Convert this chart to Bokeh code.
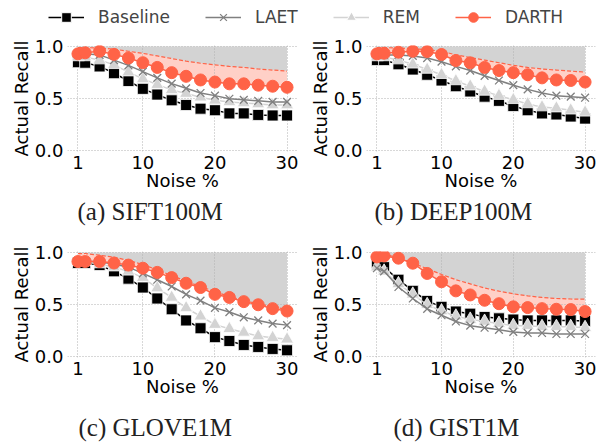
from bokeh.plotting import figure
from bokeh.layouts import column, row
from bokeh.models import Range1d, FixedTicker, Legend, LegendItem, Title, NumeralTickFormatter
from bokeh.embed import file_html
from bokeh.resources import INLINE

# ---------------- data ----------------
noise = [1, 2, 4, 6, 8, 10, 12, 14, 16, 18, 20, 22, 24, 26, 28, 30]
x_ticks = [1, 10, 20, 30]
y_ticks = [0.0, 0.5, 1.0]
recall_ceiling = 1.0

series_names = ["Baseline", "LAET", "REM", "DARTH"]
captions = ["(a) SIFT100M", "(b) DEEP100M", "(c) GLOVE1M", "(d) GIST1M"]

sift_baseline = [0.85, 0.845, 0.81, 0.745, 0.67, 0.595, 0.54, 0.485, 0.44, 0.405, 0.39, 0.36, 0.36, 0.345, 0.34, 0.34]
sift_laet = [0.93, 0.93, 0.92, 0.87, 0.82, 0.76, 0.70, 0.645, 0.60, 0.555, 0.53, 0.50, 0.49, 0.48, 0.47, 0.47]
sift_rem = [0.90, 0.90, 0.87, 0.825, 0.755, 0.69, 0.635, 0.585, 0.55, 0.515, 0.485, 0.47, 0.46, 0.45, 0.44, 0.44]
sift_darth = [0.93, 0.94, 0.955, 0.925, 0.89, 0.845, 0.80, 0.75, 0.715, 0.68, 0.66, 0.643, 0.643, 0.63, 0.62, 0.61]
sift_target = [0.99, 0.99, 0.985, 0.975, 0.955, 0.935, 0.91, 0.885, 0.86, 0.84, 0.825, 0.81, 0.80, 0.785, 0.775, 0.765]

deep_baseline = [0.87, 0.87, 0.83, 0.78, 0.73, 0.675, 0.62, 0.57, 0.52, 0.48, 0.43, 0.39, 0.36, 0.35, 0.33, 0.31]
deep_laet = [0.92, 0.92, 0.92, 0.91, 0.89, 0.855, 0.81, 0.77, 0.72, 0.675, 0.63, 0.59, 0.555, 0.53, 0.52, 0.51]
deep_rem = [0.90, 0.90, 0.87, 0.83, 0.78, 0.73, 0.67, 0.62, 0.57, 0.53, 0.49, 0.45, 0.42, 0.41, 0.39, 0.37]
deep_darth = [0.93, 0.936, 0.946, 0.955, 0.952, 0.924, 0.866, 0.844, 0.80, 0.77, 0.75, 0.73, 0.70, 0.68, 0.675, 0.66]
deep_target = [0.99, 0.99, 0.985, 0.98, 0.97, 0.955, 0.92, 0.895, 0.87, 0.845, 0.82, 0.80, 0.785, 0.775, 0.765, 0.755]

glove_baseline = [0.90, 0.90, 0.88, 0.82, 0.75, 0.665, 0.56, 0.457, 0.35, 0.275, 0.19, 0.153, 0.115, 0.096, 0.077, 0.064]
glove_laet = [0.92, 0.92, 0.91, 0.89, 0.86, 0.80, 0.74, 0.675, 0.60, 0.54, 0.47, 0.43, 0.38, 0.35, 0.32, 0.305]
glove_rem = [0.91, 0.91, 0.89, 0.86, 0.82, 0.76, 0.66, 0.57, 0.47, 0.39, 0.31, 0.27, 0.235, 0.20, 0.185, 0.17]
glove_darth = [0.914, 0.914, 0.914, 0.90, 0.88, 0.85, 0.81, 0.76, 0.706, 0.665, 0.60, 0.57, 0.53, 0.50, 0.463, 0.44]
glove_target = [0.99, 0.99, 0.975, 0.955, 0.925, 0.885, 0.835, 0.78, 0.725, 0.675, 0.625, 0.58, 0.54, 0.51, 0.48, 0.455]

gist_baseline = [0.89, 0.86, 0.74, 0.633, 0.537, 0.48, 0.435, 0.415, 0.383, 0.37, 0.358, 0.35, 0.35, 0.35, 0.35, 0.345]
gist_laet = [0.85, 0.82, 0.67, 0.56, 0.46, 0.40, 0.34, 0.30, 0.28, 0.26, 0.24, 0.23, 0.23, 0.22, 0.22, 0.22]
gist_rem = [0.86, 0.82, 0.70, 0.60, 0.50, 0.44, 0.39, 0.36, 0.34, 0.32, 0.30, 0.30, 0.29, 0.29, 0.29, 0.28]
gist_darth = [0.958, 0.968, 0.946, 0.898, 0.80, 0.72, 0.633, 0.594, 0.543, 0.51, 0.48, 0.473, 0.463, 0.457, 0.454, 0.435]
gist_target = [0.99, 0.985, 0.95, 0.90, 0.845, 0.79, 0.74, 0.70, 0.66, 0.63, 0.605, 0.585, 0.57, 0.56, 0.555, 0.553]

FONT = "DejaVu Sans"
SERIF = "Liberation Serif"


def make_panel(caption, base, laet, rem, darth, target, left, fw, right, top, bottom, cap_offset, cap_standoff):
    p = figure(frame_width=fw, frame_height=106,
               min_border_left=left, min_border_right=right,
               min_border_top=top, min_border_bottom=bottom,
               x_range=Range1d(-0.45, 31.45), y_range=Range1d(-0.005, 1.01),
               toolbar_location=None, output_backend="svg")
    p.outline_line_color = None
    for ax in (p.xaxis[0], p.yaxis[0]):
        ax.axis_line_color = None
        ax.major_tick_line_color = None
        ax.minor_tick_line_color = None
        ax.major_tick_out = 0
        ax.major_tick_in = 0
        ax.major_label_text_font = FONT
        ax.major_label_text_font_size = "18px"
        ax.major_label_text_color = "black"
        ax.axis_label_text_font = FONT
        ax.axis_label_text_font_size = "18px"
        ax.axis_label_text_font_style = "normal"
        ax.axis_label_text_color = "black"
    p.xaxis.ticker = FixedTicker(ticks=x_ticks)
    p.yaxis.ticker = FixedTicker(ticks=y_ticks)
    p.yaxis.formatter = NumeralTickFormatter(format="0.0")
    p.xaxis.axis_label = "Noise %"
    p.yaxis.axis_label = "Actual Recall"
    p.xaxis.major_label_standoff = 4
    p.xaxis.axis_label_standoff = -2
    p.yaxis.major_label_standoff = 4
    p.yaxis.axis_label_standoff = 0
    p.xgrid.ticker = FixedTicker(ticks=x_ticks)
    p.ygrid.ticker = FixedTicker(ticks=y_ticks)
    p.grid.grid_line_color = "#b0b0b0"
    p.grid.grid_line_dash = "1 2"
    p.grid.grid_line_width = 1

    ceiling = [recall_ceiling] * len(noise)
    p.varea(x=noise, y1=target, y2=ceiling, fill_color="lightgray", level="image")
    p.varea(x=noise, y1=darth, y2=target, fill_color="tomato", fill_alpha=0.3, level="image")
    p.line(noise, target, line_color="tomato", line_dash="4 2", line_width=1.2)

    p.line(noise, base, line_color="black", line_width=1.5)
    p.scatter(noise, base, marker="square", size=11, fill_color="black", line_color="white", line_width=0.8)
    p.line(noise, rem, line_color="lightgray", line_width=1.5)
    p.scatter(noise, rem, marker="triangle", size=13, fill_color="lightgray", line_color="white", line_width=0.8)
    p.line(noise, laet, line_color="gray", line_width=1.5)
    p.scatter(noise, laet, marker="x", size=11, line_color="gray", line_width=1.3)
    p.line(noise, darth, line_color="tomato", line_width=1.5)
    p.scatter(noise, darth, marker="circle", size=12, fill_color="tomato", line_color="tomato")

    t = Title(text=caption, align="left", offset=cap_offset, standoff=cap_standoff, text_font=SERIF,
              text_font_size="25px", text_font_style="normal", text_color="#222222")
    p.add_layout(t, "below")
    return p


pa = make_panel(captions[0], sift_baseline, sift_laet, sift_rem, sift_darth, sift_target,
                67, 230, 3, 12, 81, 10, 5)
pb = make_panel(captions[1], deep_baseline, deep_laet, deep_rem, deep_darth, deep_target,
                66, 229, 16, 12, 81, 8, 5)
pc = make_panel(captions[2], glove_baseline, glove_laet, glove_rem, glove_darth, glove_target,
                67, 230, 3, 19, 86, 11, 24)
pd = make_panel(captions[3], gist_baseline, gist_laet, gist_rem, gist_darth, gist_target,
                66, 229, 16, 19, 86, 27, 24)

# legend strip
lf = figure(width=611, height=33, x_range=Range1d(100, 101), y_range=Range1d(100, 101),
            toolbar_location=None, output_backend="svg", min_border=0,
            x_axis_location=None, y_axis_location=None)
lf.grid.visible = False
lf.outline_line_color = None
r1 = lf.line(noise, sift_baseline, line_color="black", line_width=1.5)
s1 = lf.scatter(noise, sift_baseline, marker="square", fill_color="black", line_color="white")
r2 = lf.line(noise, sift_laet, line_color="gray", line_width=1.5)
s2 = lf.scatter(noise, sift_laet, marker="x", line_color="gray", line_width=1.3)
r3 = lf.line(noise, sift_rem, line_color="lightgray", line_width=1.5)
s3 = lf.scatter(noise, sift_rem, marker="triangle", fill_color="lightgray", line_color="white")
r4 = lf.line(noise, sift_darth, line_color="tomato", line_width=1.5)
s4 = lf.scatter(noise, sift_darth, marker="circle", fill_color="tomato", line_color="tomato")
legend = Legend(items=[LegendItem(label=series_names[0], renderers=[r1, s1]),
                       LegendItem(label=series_names[1], renderers=[r2, s2]),
                       LegendItem(label=series_names[2], renderers=[r3, s3]),
                       LegendItem(label=series_names[3], renderers=[r4, s4])],
                orientation="horizontal", location=(48, 4),
                glyph_width=36, glyph_height=24, label_standoff=14, spacing=35,
                padding=0, margin=0, border_line_color=None, background_fill_alpha=0,
                label_text_font=FONT, label_text_font_size="17px")
lf.add_layout(legend, "center")

layout = column(lf, row(pa, pb), row(pc, pd))
open("out.html", "w").write(file_html(layout, INLINE))
